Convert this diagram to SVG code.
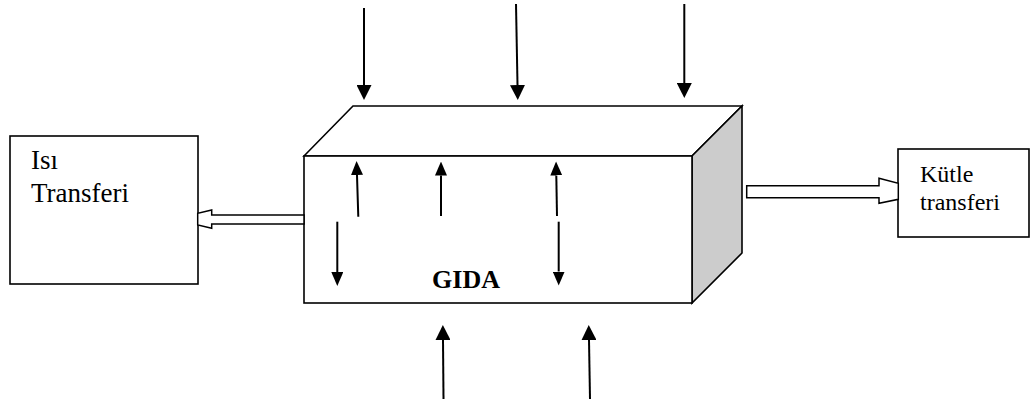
<svg xmlns="http://www.w3.org/2000/svg" width="1031" height="405" viewBox="0 0 1031 405">
  <style>
    .box { fill: #ffffff; stroke: #000000; stroke-width: 1.6; stroke-linejoin: miter; }
    .side { fill: #cccccc; stroke: #000000; stroke-width: 1.6; }
    .flow { stroke: #000000; stroke-width: 2; fill: none; }
    .hollow { fill: #ffffff; stroke: #000000; stroke-width: 1.5; }
    .label { font-family: "Liberation Serif", "Times New Roman", serif; font-size: 27px; fill: #000000; }
    .label-sm { font-family: "Liberation Serif", "Times New Roman", serif; font-size: 24px; fill: #000000; }
    .title { font-family: "Liberation Serif", "Times New Roman", serif; font-size: 26px; font-weight: bold; fill: #000000; }
  </style>
  <defs>
    <marker id="head" viewBox="0 0 15 15" markerWidth="15" markerHeight="15" markerUnits="userSpaceOnUse" refX="0" refY="7.5" orient="auto">
      <path d="M0,0 L15,7.5 L0,15 Z" fill="#000000"/>
    </marker>
    <marker id="headSmall" viewBox="0 0 14 12" markerWidth="14" markerHeight="12" markerUnits="userSpaceOnUse" refX="0" refY="6" orient="auto">
      <path d="M0,0 L14,6 L0,12 Z" fill="#000000"/>
    </marker>
  </defs>

  <!-- food block drawn as a box in perspective -->
  <g id="gida">
    <polygon class="box" points="304,156 353,106 742,106 692,156"/>
    <polygon class="side" points="692,156 742,106 742,253 692,303"/>
    <rect class="box" x="304" y="156" width="388" height="147"/>
    <text class="title" x="466" y="288" text-anchor="middle">GIDA</text>
  </g>

  <g id="isi-transferi">
    <rect class="box" x="10" y="136" width="188" height="148"/>
    <text class="label" x="31" y="169">Isı</text>
    <text class="label" x="31" y="202">Transferi</text>
  </g>

  <g id="kutle-transferi">
    <rect class="box" x="898" y="149" width="131" height="88"/>
    <text class="label-sm" x="920" y="181.5">Kütle</text>
    <text class="label-sm" x="920" y="210">transferi</text>
  </g>

  <g id="connectors">
    <!-- incoming from above -->
    <line class="flow" x1="364" y1="8" x2="364" y2="85" marker-end="url(#head)"/>
    <line class="flow" x1="516" y1="4" x2="517.5" y2="85" marker-end="url(#head)"/>
    <line class="flow" x1="684.3" y1="4" x2="684.3" y2="83" marker-end="url(#head)"/>

    <!-- incoming from below -->
    <line class="flow" x1="443.5" y1="399" x2="443" y2="340" marker-end="url(#head)"/>
    <line class="flow" x1="590" y1="399" x2="589" y2="340" marker-end="url(#head)"/>

    <!-- movement inside the block -->
    <line class="flow" x1="358.3" y1="216.7" x2="357" y2="175" marker-end="url(#headSmall)"/>
    <line class="flow" x1="441" y1="216" x2="441" y2="175.5" marker-end="url(#headSmall)"/>
    <line class="flow" x1="557" y1="216" x2="556.3" y2="175.5" marker-end="url(#headSmall)"/>
    <line class="flow" x1="337.3" y1="221.7" x2="337.3" y2="272" marker-end="url(#headSmall)"/>
    <line class="flow" x1="558.7" y1="221.7" x2="558.7" y2="271.5" marker-end="url(#headSmall)"/>

    <!-- heat transfer out to the left -->
    <polygon class="hollow" points="304,215 211.7,215 211.7,210 197.7,213.3 197.7,225 211.7,228.3 211.7,224 304,224"/>
    <!-- mass transfer out to the right -->
    <polygon class="hollow" points="746.7,185.7 879,185.7 879,178.3 898.3,183.3 898.3,199.3 879,203.3 879,197.7 746.7,197.7"/>
  </g>
</svg>
